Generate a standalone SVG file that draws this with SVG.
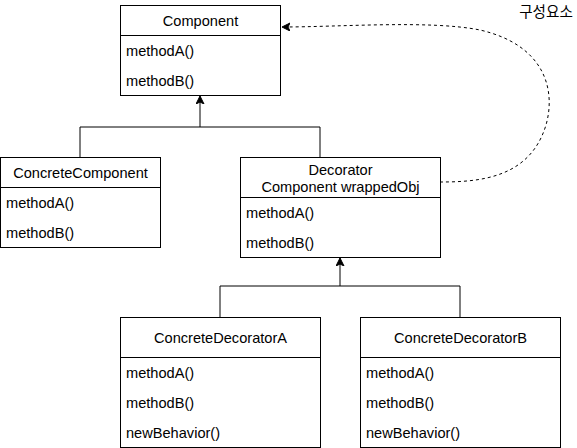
<svg xmlns="http://www.w3.org/2000/svg" width="577" height="448" viewBox="0 0 577 448">
<style>
.box{fill:#fff;stroke:#000;stroke-width:1}
.t{font-family:"Liberation Sans",Arial,sans-serif;font-size:14.6px;fill:#000}
.c{text-anchor:middle}
.ln{fill:none;stroke:#000;stroke-width:1}
.dash{fill:none;stroke:#000;stroke-width:1;stroke-dasharray:3 3}
</style>
<defs>
<marker id="arr" markerWidth="10" markerHeight="10" refX="8" refY="4" orient="auto" markerUnits="userSpaceOnUse">
<path d="M0,0 L8,4 L0,8 L2,4 Z" fill="#000" stroke="#000" stroke-width="1"/>
</marker>
</defs>
<rect width="577" height="448" fill="#fff"/>
<g id="connectors">
<path class="ln" d="M80,157 V127 H320 V157"/>
<path class="ln" d="M200,127 V96" marker-end="url(#arr)"/>
<path class="ln" d="M220,317 V286 H460 V317"/>
<path class="ln" d="M340,286 V258" marker-end="url(#arr)"/>
<path class="dash" d="M440,182 C480,182 530,178 546,125 C556,90 545,45 480,30 C430,20 340,27 282,27" marker-end="url(#arr)"/>
</g>
<g id="component">
<rect class="box" x="120.5" y="5.5" width="160" height="90"/>
<line class="ln" x1="120.5" y1="35.5" x2="280.5" y2="35.5"/>
<text class="t c" x="200.5" y="25.5">Component</text>
<text class="t" x="126" y="55.5">methodA()</text>
<text class="t" x="126" y="85.5">methodB()</text>
</g>
<g id="concreteComponent">
<rect class="box" x="0.5" y="157.5" width="160" height="90"/>
<line class="ln" x1="0.5" y1="187.5" x2="160.5" y2="187.5"/>
<text class="t c" x="80.5" y="177.5">ConcreteComponent</text>
<text class="t" x="6" y="207.5">methodA()</text>
<text class="t" x="6" y="237.5">methodB()</text>
</g>
<g id="decorator">
<rect class="box" x="240.5" y="157.5" width="200" height="100"/>
<line class="ln" x1="240.5" y1="197.5" x2="440.5" y2="197.5"/>
<text class="t c" x="340.5" y="174.5">Decorator</text>
<text class="t c" x="340.5" y="191.5">Component wrappedObj</text>
<text class="t" x="246" y="217.5">methodA()</text>
<text class="t" x="246" y="247.5">methodB()</text>
</g>
<g id="concreteDecoratorA">
<rect class="box" x="120.5" y="317.5" width="200" height="130"/>
<line class="ln" x1="120.5" y1="357.5" x2="320.5" y2="357.5"/>
<text class="t c" x="220.5" y="342.5">ConcreteDecoratorA</text>
<text class="t" x="126" y="377.5">methodA()</text>
<text class="t" x="126" y="407.5">methodB()</text>
<text class="t" x="126" y="437.5">newBehavior()</text>
</g>
<g id="concreteDecoratorB">
<rect class="box" x="360.5" y="317.5" width="200" height="130"/>
<line class="ln" x1="360.5" y1="357.5" x2="560.5" y2="357.5"/>
<text class="t c" x="460.5" y="342.5">ConcreteDecoratorB</text>
<text class="t" x="366" y="377.5">methodA()</text>
<text class="t" x="366" y="407.5">methodB()</text>
<text class="t" x="366" y="437.5">newBehavior()</text>
</g>
<g id="label">
<text class="t c" x="546" y="17" style="font-family:'Liberation Sans','Noto Sans CJK KR',sans-serif">구성요소</text>
</g>
</svg>
